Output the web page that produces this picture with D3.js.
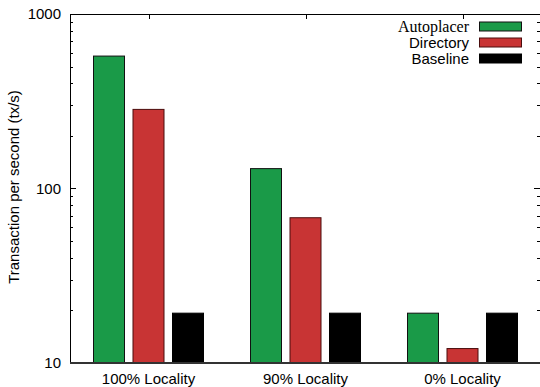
<!DOCTYPE html>
<html>
<head>
<meta charset="utf-8">
<script src="https://cdn.jsdelivr.net/npm/d3@7"></script>
<style>
  html, body { margin: 0; padding: 0; background: #fff; }
  svg { display: block; }
</style>
</head>
<body>
<svg id="chart" width="540" height="387"></svg>
<script>
// Throughput per workload locality, log scale
const categories = ["100% Locality", "90% Locality", "0% Locality"];
const seriesNames = ["Autoplacer", "Directory", "Baseline"];
const autoplacer = [574, 130, 19.3];
const directory = [284, 68, 12.1];
const baseline = [19.3, 19.3, 19.3];
const yTicks = [10, 100, 1000];
const yLabel = "Transaction per second (tx/s)";

const seriesValues = [autoplacer, directory, baseline];
const fills = ["#1a9a48", "#c83434", "#000000"];
const strokes = ["#111111", "#4a0d0d", "#000000"];

const W = 540, H = 387;
const plot = { left: 70, top: 14, right: 541, bottom: 363 };

const svg = d3.select("#chart");

const x = d3.scaleBand().domain(categories).range([plot.left, plot.right]);
const y = d3.scaleLog().domain([10, 1000]).range([plot.bottom, plot.top]);

const step = 39.5, barW = 31;

// bars
seriesNames.forEach((name, si) => {
  svg.append("g").selectAll("rect")
    .data(categories.map((c, i) => ({ c, v: seriesValues[si][i] })))
    .join("rect")
    .attr("x", d => x(d.c) + x.bandwidth() / 2 + (si - 1) * step - barW / 2)
    .attr("y", d => y(d.v))
    .attr("width", barW)
    .attr("height", d => plot.bottom - y(d.v))
    .attr("fill", fills[si])
    .attr("stroke", strokes[si])
    .attr("stroke-width", 1);
});

// minor/major ticks on left and right (inward)
const minorVals = [];
for (let e = 1; e < 3; e++) for (let m = 2; m <= 9; m++) minorVals.push(m * Math.pow(10, e));

const axisG = svg.append("g").attr("stroke", "#000").attr("stroke-width", 1);
minorVals.forEach(v => {
  const yy = Math.round(y(v)) + 0.5;
  axisG.append("line").attr("x1", plot.left).attr("x2", plot.left + 3).attr("y1", yy).attr("y2", yy);
  axisG.append("line").attr("x1", plot.right - 1).attr("x2", plot.right - 4).attr("y1", yy).attr("y2", yy);
});
yTicks.forEach(v => {
  const yy = Math.round(y(v)) + 0.5;
  axisG.append("line").attr("x1", plot.left).attr("x2", plot.left + 6).attr("y1", yy).attr("y2", yy);
  axisG.append("line").attr("x1", plot.right - 1).attr("x2", plot.right - 7).attr("y1", yy).attr("y2", yy);
});

// top ticks at category centres
categories.forEach(c => {
  const xx = Math.round(x(c) + x.bandwidth() / 2) + 0.5;
  axisG.append("line").attr("x1", xx).attr("x2", xx).attr("y1", plot.top).attr("y2", plot.top + 5);
});

// frame
axisG.append("line").attr("x1", plot.left + 0.5).attr("x2", plot.left + 0.5)
  .attr("y1", plot.top).attr("y2", plot.bottom);
axisG.append("line").attr("x1", plot.left).attr("x2", W)
  .attr("y1", plot.top + 0.5).attr("y2", plot.top + 0.5);
svg.append("line").attr("x1", plot.left).attr("x2", W)
  .attr("y1", plot.bottom).attr("y2", plot.bottom)
  .attr("stroke", "#333").attr("stroke-width", 2);

// y tick labels
svg.append("g").selectAll("text").data(yTicks).join("text")
  .attr("x", 61).attr("y", d => y(d)).attr("dy", "0.36em")
  .attr("text-anchor", "end")
  .style("font-family", "Liberation Sans, Arial, sans-serif")
  .style("font-size", "15px")
  .text(d => d);

// x category labels
svg.append("g").selectAll("text").data(categories).join("text")
  .attr("x", d => x(d) + x.bandwidth() / 2).attr("y", 384)
  .attr("text-anchor", "middle")
  .style("font-family", "Liberation Sans, Arial, sans-serif")
  .style("font-size", "15px")
  .text(d => d);

// y axis title
svg.append("text")
  .attr("transform", "translate(19,187) rotate(-90)")
  .attr("text-anchor", "middle")
  .style("font-family", "Liberation Sans, Arial, sans-serif")
  .style("font-size", "15px")
  .text(yLabel);

// legend
const legend = svg.append("g");
seriesNames.forEach((name, i) => {
  const cy = 26.5 + i * 16;
  legend.append("rect")
    .attr("x", 479.5).attr("y", cy - 4.5).attr("width", 42).attr("height", 9)
    .attr("fill", fills[i]).attr("stroke", strokes[i]).attr("stroke-width", 1);
  legend.append("text")
    .attr("x", 469).attr("y", cy + 5)
    .attr("text-anchor", "end")
    .style("font-family", i === 0 ? "Liberation Serif, Times New Roman, serif" : "Liberation Sans, Arial, sans-serif")
    .style("font-size", i === 0 ? "16px" : "15px")
    .text(name);
});
</script>
</body>
</html>
